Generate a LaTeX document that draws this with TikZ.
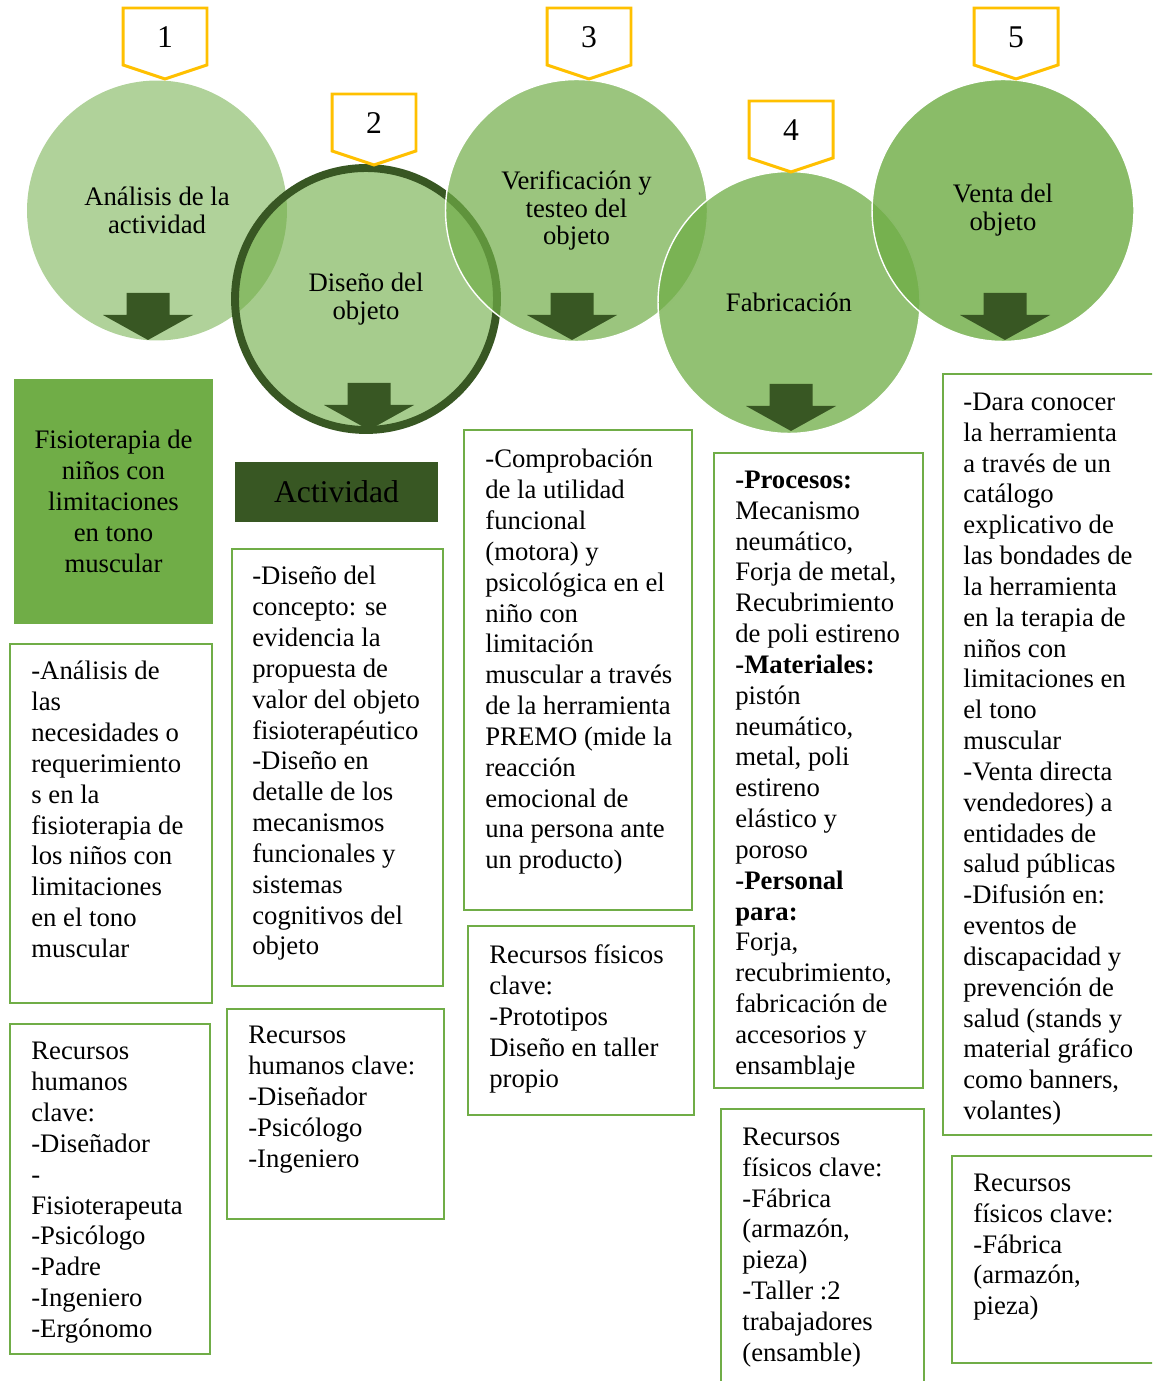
\documentclass[tikz,border=0pt]{standalone}
\usepackage{fontspec}
\setmainfont{Liberation Serif}

\definecolor{verde}{HTML}{70AD47}
\definecolor{verdeosc}{HTML}{385723}
\definecolor{amarillo}{HTML}{FFC000}
\newcommand{\letra}{\fontsize{15.2}{17.55}\selectfont}

\begin{document}
\begin{tikzpicture}[x=0.02cm, y=-0.02cm,
	etapa/.style={circle, fill=verde, minimum size=5.24cm, inner sep=0, align=center, text opacity=1, font=\fontsize{15.2}{15.9}\selectfont},
	numero/.style={rectangle, minimum width=1.68cm, minimum height=1.12cm, outer sep=0, font=\fontsize{18}{20}\selectfont},
	etiqueta/.style={draw=amarillo, line width=1.7pt, line join=miter},
	flecha/.style={fill=verdeosc},
	marco/.style={rectangle, draw=verde, line width=1.4pt},
	texto/.style={anchor=north west, align=left, inner sep=0, font=\letra, execute at begin node=\strut}
]
\useasboundingbox (0,0) rectangle (1152,1381);
\clip (0,0) rectangle (1152,1381);

% Etapas
\node[etapa, fill opacity=0.55, minimum size=5.2cm] (c1) at (157,210.5) {Análisis de la\\actividad};
\node[etapa, fill opacity=0.62, draw=verdeosc, line width=4.5pt] (c2) at (366,299) {Diseño del\\objeto};
\node[etapa, fill opacity=0.70, draw=white, line width=0.8pt] (c3) at (576.5,210.5) {Verificación y\\testeo del\\objeto};
\node[etapa, fill opacity=0.76, draw=white, line width=0.8pt] (c4) at (789,302.5) {Fabricación};
\node[etapa, fill opacity=0.82, draw=white, line width=0.8pt] (c5) at (1003,210.5) {Venta del\\objeto};

% Flechas de bloque
\foreach \x/\y in {148/293, 369/383, 572/293, 791/384, 1005/293}
	\fill[flecha] ({\x-21.5},\y) -- ({\x+21.5},\y) -- ({\x+21.5},{\y+22}) -- ({\x+45},{\y+22}) -- (\x,{\y+47}) -- ({\x-45},{\y+22}) -- ({\x-21.5},{\y+22}) -- cycle;

% Numeros
\foreach \n/\x/\y in {1/165/37, 2/374/123, 3/589/37, 4/791/130, 5/1016/37} {
	\node[numero] (n\n) at (\x,\y) {\n};
	\draw[etiqueta] ([yshift=0.02cm]n\n.north west) -- ([yshift=0.02cm]n\n.north east) -- (n\n.south east) -- ([yshift=-0.28cm]n\n.south) -- (n\n.south west) -- cycle;
}

% Tema y titulo
\node[rectangle, fill=verde, minimum width=3.98cm, minimum height=4.9cm, align=center, font=\letra] (tema) at (113.5,501.5) {Fisioterapia de\\niños con\\limitaciones\\en tono\\muscular};
\node[rectangle, fill=verdeosc, minimum width=4.06cm, minimum height=1.2cm, font=\fontsize{18}{20}\selectfont] (act) at (336.5,492) {Actividad};

% Cajas
\node[marco, minimum width=4.04cm, minimum height=7.18cm] (m1) at (111,823.5) {};
\node[marco, minimum width=4.00cm, minimum height=6.60cm] (m2) at (110,1189) {};
\node[marco, minimum width=4.22cm, minimum height=8.74cm] (m3) at (337.5,767.5) {};
\node[marco, minimum width=4.34cm, minimum height=4.20cm] (m4) at (335.5,1114) {};
\node[marco, minimum width=4.56cm, minimum height=9.60cm] (m5) at (578,670) {};
\node[marco, minimum width=4.52cm, minimum height=3.78cm] (m6) at (581,1020.5) {};
\node[marco, minimum width=4.18cm, minimum height=12.70cm] (m7) at (818.5,770.5) {};
\node[marco, minimum width=4.06cm, minimum height=5.82cm] (m8) at (822.5,1254.5) {};
\node[marco, minimum width=4.54cm, minimum height=15.22cm] (m9) at (1056.5,754.5) {};
\node[marco, minimum width=4.36cm, minimum height=4.14cm] (m10) at (1061,1259.5) {};

% Textos
\node[texto] (t1) at (31,661) {-Análisis de\\las\\necesidades o\\requerimiento\\s en la\\fisioterapia de\\los niños con\\limitaciones\\en el tono\\muscular};
\node[texto] (t2) at (31,1042) {Recursos\\humanos\\clave:\\-Diseñador\\-\\Fisioterapeuta\\-Psicólogo\\-Padre\\-Ingeniero\\-Ergónomo};
\node[texto] (t3) at (252,566) {-Diseño del\\concepto: se\\evidencia la\\propuesta de\\valor del objeto\\fisioterapéutico\\-Diseño en\\detalle de los\\mecanismos\\funcionales y\\sistemas\\cognitivos del\\objeto};
\node[texto] (t4) at (248,1026) {Recursos\\humanos clave:\\-Diseñador\\-Psicólogo\\-Ingeniero};
\node[texto] (t5) at (485,449) {-Comprobación\\de la utilidad\\funcional\\(motora) y\\psicológica en el\\niño con\\limitación\\muscular a través\\de la herramienta\\PREMO (mide la\\reacción\\emocional de\\una persona ante\\un producto)};
\node[texto] (t6) at (489,944.5) {Recursos físicos\\clave:\\-Prototipos\\Diseño en taller\\propio};
\node[texto] (t7) at (735,470.5) {\textbf{-Procesos:}\\Mecanismo\\neumático,\\Forja de metal,\\Recubrimiento\\de poli estireno\\\textbf{-Materiales:}\\pistón\\neumático,\\metal, poli\\estireno\\elástico y\\poroso\\\textbf{-Personal}\\\textbf{para:}\\Forja,\\recubrimiento,\\fabricación de\\accesorios y\\ensamblaje};
\node[texto] (t8) at (742,1127.5) {Recursos\\físicos clave:\\-Fábrica\\(armazón,\\pieza)\\-Taller :2\\trabajadores\\(ensamble)};
\node[texto] (t9) at (963,392.5) {-Dara conocer\\la herramienta\\a través de un\\catálogo\\explicativo de\\las bondades de\\la herramienta\\en la terapia de\\niños con\\limitaciones en\\el tono\\muscular\\-Venta directa\\vendedores) a\\entidades de\\salud públicas\\-Difusión en:\\eventos de\\discapacidad y\\prevención de\\salud (stands y\\material gráfico\\como banners,\\volantes)};
\node[texto] (t10) at (973,1173.5) {Recursos\\físicos clave:\\-Fábrica\\(armazón,\\pieza)};

\end{tikzpicture}
\end{document}
